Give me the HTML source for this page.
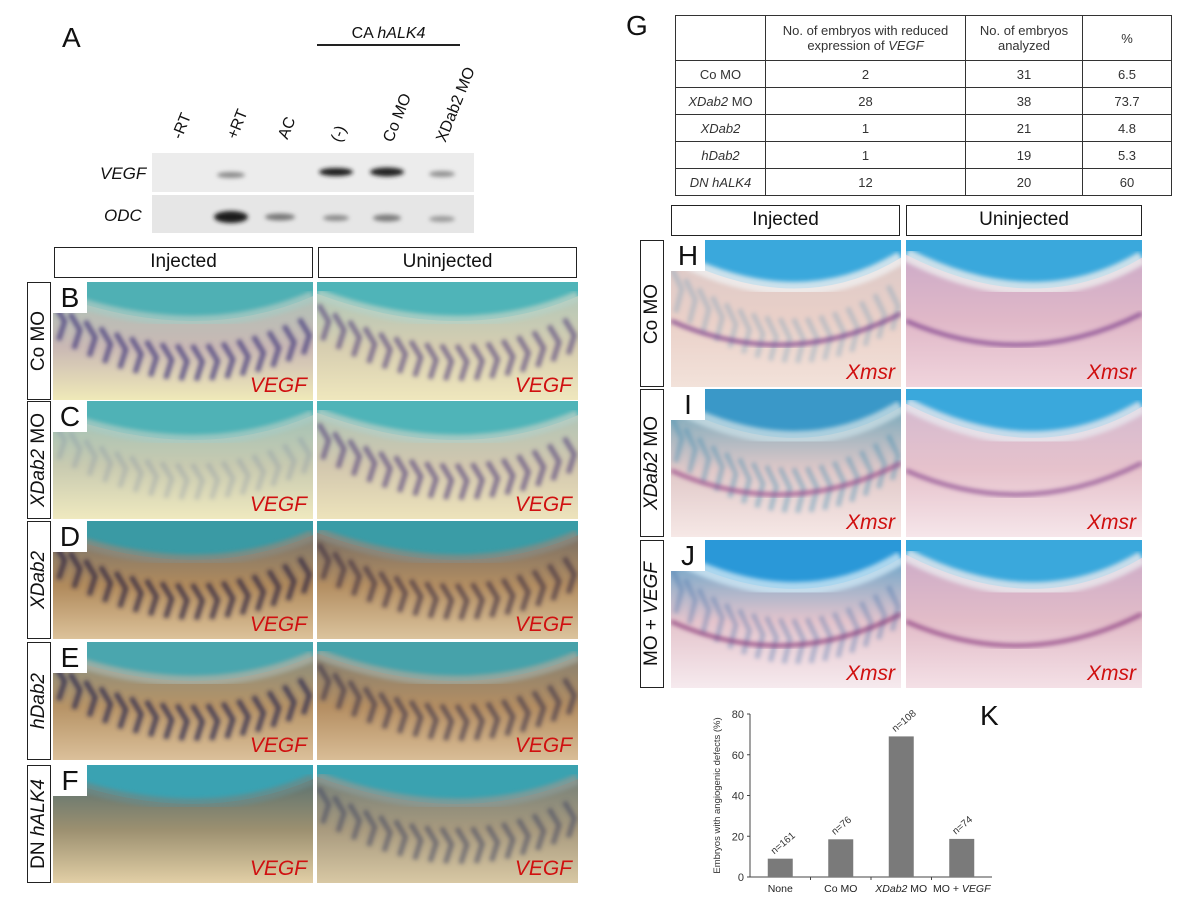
<!DOCTYPE html>
<html><head><meta charset="utf-8">
<style>
*{margin:0;padding:0;box-sizing:border-box}
body{width:1200px;height:898px;background:#fff;position:relative;overflow:hidden;font-family:"Liberation Sans",Arial,sans-serif;color:#111}
.abs{position:absolute}
.hdr{position:absolute;border:1.5px solid #222;background:#fff;font-size:19px;text-align:center;line-height:28px}
.side{position:absolute;border:1.5px solid #222;background:#fff}
.side span{position:absolute;left:50%;top:50%;transform:translate(-50%,-50%) rotate(-90deg);white-space:nowrap;font-size:19px}
.photo{position:absolute;overflow:hidden}
.photo svg{position:absolute;left:0;top:0}
.lt{position:absolute;left:0;top:0;width:34px;height:31px;background:#fff;font-size:28px;line-height:31px;text-align:center}
.tag{position:absolute;right:6px;bottom:2px;color:#d01010;font-style:italic;font-size:21px}
table{border-collapse:collapse;font-size:13px;color:#333}
td{border:1.2px solid #333;text-align:center;height:27px}
.lane{position:absolute;font-size:16px;transform:rotate(-68deg);transform-origin:left bottom;white-space:nowrap}
</style></head><body>

<div class="abs" style="left:62px;top:22px;font-size:28px">A</div>
<div class="abs" style="left:317px;top:25px;width:143px;text-align:center;font-size:16px">CA <i>hALK4</i></div>
<div class="abs" style="left:317px;top:44px;width:143px;height:1.5px;background:#222"></div>
<div>
<div class="lane" style="left:186px;top:124px">-RT</div>
<div class="lane" style="left:241px;top:124px">+RT</div>
<div class="lane" style="left:292px;top:124px">AC</div>
<div class="lane" style="left:345px;top:127px">(-)</div>
<div class="lane" style="left:397px;top:127px">Co MO</div>
<div class="lane" style="left:450px;top:127px">XDab2 MO</div>
</div>
<div class="abs" style="left:100px;top:164px;font-size:17px;font-style:italic">VEGF</div>
<div class="abs" style="left:104px;top:206px;font-size:17px;font-style:italic">ODC</div>
<svg class="abs" style="left:152px;top:153px" width="322" height="80">
<defs><filter id="bl"><feGaussianBlur stdDeviation="2.2"/></filter></defs>
<rect x="0" y="0" width="322" height="39" fill="#ececec"/>
<rect x="0" y="42" width="322" height="38" fill="#e6e6e6"/>
<g filter="url(#bl)">
<ellipse cx="79" cy="22" rx="14" ry="3" fill="#8a8a8a"/>
<ellipse cx="184" cy="19" rx="17" ry="4" fill="#1a1a1a"/>
<ellipse cx="235" cy="19" rx="17" ry="4.5" fill="#222"/>
<ellipse cx="290" cy="21" rx="13" ry="3" fill="#909090"/>
<ellipse cx="79" cy="64" rx="17" ry="6" fill="#1a1a1a"/>
<ellipse cx="128" cy="64" rx="15" ry="3.5" fill="#777"/>
<ellipse cx="184" cy="65" rx="13" ry="3" fill="#8a8a8a"/>
<ellipse cx="235" cy="65" rx="14" ry="3.5" fill="#7a7a7a"/>
<ellipse cx="290" cy="66" rx="13" ry="3" fill="#9a9a9a"/>
</g></svg>

<div class="hdr" style="left:54px;top:247px;width:259px;height:31px">Injected</div>
<div class="hdr" style="left:318px;top:247px;width:259px;height:31px">Uninjected</div>

<div id="left"></div>
<div id="right"></div>

<div class="abs" style="left:626px;top:10px;font-size:28px">G</div>
<table class="abs" style="left:675px;top:15px;width:497px">
<tr style="height:45px"><td style="width:90px"></td><td style="width:200px">No. of embryos with reduced<br>expression of <i>VEGF</i></td><td style="width:117px">No. of embryos<br>analyzed</td><td>%</td></tr>
<tr><td>Co MO</td><td>2</td><td>31</td><td>6.5</td></tr>
<tr><td><i>XDab2</i> MO</td><td>28</td><td>38</td><td>73.7</td></tr>
<tr><td><i>XDab2</i></td><td>1</td><td>21</td><td>4.8</td></tr>
<tr><td><i>hDab2</i></td><td>1</td><td>19</td><td>5.3</td></tr>
<tr><td><i>DN hALK4</i></td><td>12</td><td>20</td><td>60</td></tr>
</table>

<div class="hdr" style="left:671px;top:205px;width:229px;height:31px">Injected</div>
<div class="hdr" style="left:906px;top:205px;width:236px;height:31px">Uninjected</div>

<div class="abs" style="left:980px;top:700px;font-size:28px">K</div>
<svg class="abs" id="chart" style="left:700px;top:695px" width="300" height="203"></svg>

<script>
// ---- Panel K data ----
const categories = ["None","Co MO","XDab2 MO","MO + VEGF"];
const values = [9, 18.5, 69, 18.7];
const nLabels = ["n=161","n=76","n=108","n=74"];
const yTicks = [0,20,40,60,80];

const NS="http://www.w3.org/2000/svg";
const svg=document.getElementById('chart');
function mk(tag,attrs,parent){const e=document.createElementNS(NS,tag);for(const k in attrs)e.setAttribute(k,attrs[k]);(parent||svg).appendChild(e);return e;}
const x0=50,x1=292,y0=182,yTop=19;
const yScale=v=>y0-(v/80)*(y0-yTop);
const band=(x1-x0)/categories.length;
const xScale=i=>x0+band*(i+0.5);
let ax=mk('line',{x1:x0,y1:yTop,x2:x0,y2:y0,stroke:'#444','stroke-width':1});


let axx=mk('line',{x1:x0,y1:y0,x2:x1,y2:y0,stroke:'#444','stroke-width':1});


yTicks.forEach(t=>{
  const tl=mk('line',{x1:x0-3,y1:yScale(t),x2:x0,y2:yScale(t),stroke:'#444'});
  
  
  const tx=mk('text',{x:x0-6,y:yScale(t)+4,'text-anchor':'end','font-size':11,fill:'#333'});
  tx.textContent=t;
  
  
});
for(let i=1;i<categories.length;i++){
  const d=mk('line',{x1:x0+band*i,y1:y0,x2:x0+band*i,y2:y0+3,stroke:'#444'});
  
  
}
categories.forEach((c,i)=>{
  const cx=xScale(i),bw=25;
  const r=mk('rect',{x:cx-bw/2,y:yScale(values[i]),width:bw,height:y0-yScale(values[i]),fill:'#7a7a7a'});
  
  
  const n=mk('text',{x:cx-6,y:yScale(values[i])-4,'font-size':10,fill:'#333',transform:`rotate(-40 ${cx-6} ${yScale(values[i])-4})`});
  n.textContent=nLabels[i];
  
  
  const l=mk('text',{x:cx,y:y0+15,'text-anchor':'middle','font-size':10.5,fill:'#222'});
  if(c.indexOf('XDab2')===0){l.innerHTML='<tspan font-style="italic">XDab2</tspan> MO';}
  else if(c.indexOf('VEGF')>0){l.innerHTML='MO + <tspan font-style="italic">VEGF</tspan>';}
  else l.textContent=c;
  
  
});
const yt=mk('text',{x:20,y:(y0+yTop)/2,'text-anchor':'middle','font-size':9.5,fill:'#333',transform:`rotate(-90 20 ${(y0+yTop)/2})`});
yt.textContent='Embryos with angiogenic defects (%)';



// ---- photo panels (decorative) ----
let pid=0;
function photo(parent,x,y,w,h,o){
  const d=document.createElement('div');
  d.className='photo';
  d.style.cssText=`left:${x}px;top:${y}px;width:${w}px;height:${h}px`;
  pid++;
  let s=`<svg width="${w}" height="${h}"><defs><linearGradient id="g${pid}" x1="0" y1="0" x2="0" y2="1">
  <stop offset="0" stop-color="${o.c1}"/><stop offset="0.55" stop-color="${o.c2}"/><stop offset="1" stop-color="${o.c3}"/></linearGradient>
  <filter id="f${pid}"><feGaussianBlur stdDeviation="2"/></filter></defs>
  <rect width="${w}" height="${h}" fill="url(#g${pid})"/>
  <path d="M0 0 H${w} V${h*0.12} Q${w*0.55} ${h*0.55} 0 ${h*0.1} Z" fill="${o.top}" />
  <path d="M0 ${h*0.1} Q${w*0.55} ${h*0.55} ${w} ${h*0.12}" stroke="${o.rim}" stroke-width="${h*0.09}" fill="none" opacity="0.8" filter="url(#f${pid})"/>`;
  if(o.stripe){
    let g=`<g stroke="${o.stripe}" stroke-width="5" opacity="${o.op}" filter="url(#f${pid})" fill="none">`;
    for(let i=0;i<17;i++){const px=w*(i+0.5)/17;const t=(px/w);const by=h*(0.1+0.9*(1-Math.pow(2*t-1.1,2))*0.35)+h*0.12;
      g+=`<path d="M${px-6} ${by} L${px+4} ${by+h*0.14} L${px-2} ${by+h*0.3}"/>`;}
    s+=g+'</g>';
  }
  if(o.line){s+=`<path d="M0 ${h*0.55} Q${w*0.5} ${h*0.9} ${w} ${h*0.5}" stroke="${o.line}" stroke-width="4" fill="none" opacity="0.8" filter="url(#f${pid})"/>`;}
  s+='</svg>';
  d.innerHTML=s;
  parent.appendChild(d);
  return d;
}
function addLetter(d,L){const b=document.createElement('div');b.className='lt';b.textContent=L;d.appendChild(b);}
function addTag(d,t){const b=document.createElement('div');b.className='tag';b.textContent=t;d.appendChild(b);}
function side(parent,x,y,w,h,html,name){const s=document.createElement('div');s.className='side';s.style.cssText=`left:${x}px;top:${y}px;width:${w}px;height:${h}px`;s.innerHTML='<span>'+html+'</span>';
  
  
  parent.appendChild(s);}

const L=document.getElementById('left');
const rowsL=[[282,118,'B','Co MO','side-label-co-mo'],[401,118,'C','<i>XDab2</i> MO','side-label-xdab2-mo'],[521,118,'D','<i>XDab2</i>','side-label-xdab2'],[642,118,'E','<i>hDab2</i>','side-label-hdab2'],[765,118,'F','DN <i>hALK4</i>','side-label-dn-halk4']];
const stylesL=[
 [{c1:'#a8c4b8',c2:'#c9b8b4',c3:'#efe9b8',top:'#4fb0b4',rim:'#a9c9c2',stripe:'#4a3f80',op:0.8},{c1:'#a9c6bb',c2:'#d6cdb0',c3:'#efe7bd',top:'#4fb4b8',rim:'#b7d1c5',stripe:'#5a4a80',op:0.7}],
 [{c1:'#98c0b8',c2:'#c8cab0',c3:'#efe9bf',top:'#4fb2b6',rim:'#a9cbc2',stripe:'#6a7aa0',op:0.25},{c1:'#a8c4b8',c2:'#d2c7ae',c3:'#ede3bb',top:'#4fb4b8',rim:'#b5cec4',stripe:'#5a4a80',op:0.7}],
 [{c1:'#6e7070',c2:'#b08a5c',c3:'#dcc29a',top:'#3a9aa4',rim:'#8a8a7e',stripe:'#2a2240',op:0.75},{c1:'#6a6664',c2:'#b38e62',c3:'#dbc39d',top:'#3a9ca6',rim:'#8a8a80',stripe:'#3a2c40',op:0.65}],
 [{c1:'#7e8c84',c2:'#b69366',c3:'#dbc09a',top:'#4aa6ae',rim:'#a8b0a4',stripe:'#2e2a50',op:0.8},{c1:'#7a7c74',c2:'#b48e62',c3:'#d9bd96',top:'#46a2aa',rim:'#a2a89c',stripe:'#3a3048',op:0.65}],
 [{c1:'#4a6a70',c2:'#9c9070',c3:'#e2cfa6',top:'#3aa2b2',rim:'#6a8a88',stripe:null},{c1:'#6a7a78',c2:'#a89a7e',c3:'#d8c8a4',top:'#3aa2b0',rim:'#8a9a94',stripe:'#3a4060',op:0.55}]
];
rowsL.forEach((r,i)=>{
  side(L,27,r[0],24,r[1],r[3],r[4]);
  const a=photo(L,53,r[0],260,r[1],stylesL[i][0]);
  
  
  addLetter(a,r[2]);addTag(a,'VEGF');
  const b=photo(L,317,r[0],261,r[1],stylesL[i][1]);
  
  
  addTag(b,'VEGF');
});

const R=document.getElementById('right');
const rowsR=[[240,147,'H','Co MO','side-label-co-mo-right'],[389,148,'I','<i>XDab2</i> MO','side-label-xdab2-mo-right'],[540,148,'J','MO + <i>VEGF</i>','side-label-mo-vegf']];
const stylesR=[
 [{c1:'#d8c8c8',c2:'#ead0c8',c3:'#f2e2da',top:'#3aa8dc',rim:'#f0f0f0',stripe:'#6a9ab8',op:0.35,line:'#7a3a8a'},{c1:'#c8a8c8',c2:'#e0b8c8',c3:'#f0d4dc',top:'#3aa8dc',rim:'#eeeeee',stripe:null,line:'#7a3a8a'}],
 [{c1:'#5aa0b8',c2:'#e0c8c8',c3:'#f6e8e6',top:'#3a98c8',rim:'#c8dde4',stripe:'#3a8ab0',op:0.4,line:'#9a4a8a'},{c1:'#d0b8d0',c2:'#e6c2cc',c3:'#f6e6ea',top:'#3aa8dc',rim:'#e8e8ee',stripe:null,line:'#8a4a90'}],
 [{c1:'#4a9cc8',c2:'#e4c4cc',c3:'#f6eaee',top:'#2a98d8',rim:'#cce6f4',stripe:'#3a6aa8',op:0.35,line:'#8a3a7a'},{c1:'#c8a8c8',c2:'#e2bcc8',c3:'#f4e0e6',top:'#3aa8dc',rim:'#eaeaee',stripe:null,line:'#8a3a80'}]
];
rowsR.forEach((r,i)=>{
  side(R,640,r[0],24,r[1],r[3],r[4]);
  const a=photo(R,671,r[0],230,r[1],stylesR[i][0]);
  
  
  addLetter(a,r[2]);addTag(a,'Xmsr');
  const b=photo(R,906,r[0],236,r[1],stylesR[i][1]);
  
  
  addTag(b,'Xmsr');
});
</script>
</body></html>
